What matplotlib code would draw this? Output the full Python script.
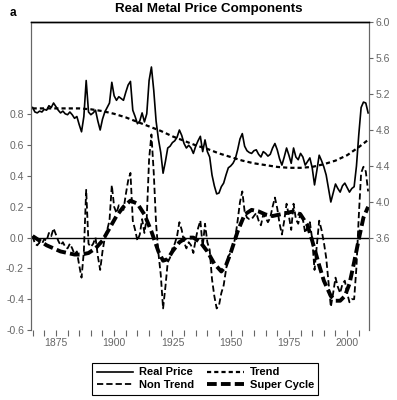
import matplotlib
matplotlib.use("Agg")
import matplotlib.pyplot as plt
import numpy as np

plt.rcParams['font.family'] = ['Liberation Sans', 'DejaVu Sans']
plt.rcParams['lines.scale_dashes'] = False

# annual data 1865-2009
years = np.arange(1865, 2010)

real_price = [
    5.05, 5.00, 4.99, 5.01, 5.00, 5.03, 5.02, 5.07, 5.05, 5.10,   # 1865-1874
    5.06, 5.02, 4.99, 5.01, 4.98, 4.97, 5.00, 4.97, 4.93, 4.95,   # 1875-1884
    4.86, 4.78, 4.95, 5.35, 5.00, 4.97, 4.99, 5.02, 4.90, 4.80,   # 1885-1894
    4.92, 5.00, 5.05, 5.10, 5.33, 5.18, 5.13, 5.17, 5.15, 5.13,   # 1895-1904
    5.22, 5.30, 5.34, 5.02, 4.95, 4.87, 4.90, 4.99, 4.89, 4.98,   # 1905-1914
    5.35, 5.50, 5.24, 4.90, 4.70, 4.55, 4.32, 4.45, 4.60, 4.62,   # 1915-1924
    4.66, 4.68, 4.72, 4.80, 4.74, 4.65, 4.60, 4.63, 4.60, 4.54,   # 1925-1934
    4.62, 4.68, 4.73, 4.56, 4.69, 4.56, 4.50, 4.30, 4.18, 4.09,   # 1935-1944
    4.10, 4.17, 4.21, 4.30, 4.38, 4.40, 4.43, 4.48, 4.58, 4.70,   # 1945-1954
    4.76, 4.62, 4.57, 4.55, 4.54, 4.57, 4.58, 4.53, 4.50, 4.56,   # 1955-1964
    4.54, 4.51, 4.53, 4.60, 4.65, 4.58, 4.48, 4.41, 4.50, 4.60,   # 1965-1974
    4.52, 4.43, 4.60, 4.50, 4.47, 4.54, 4.50, 4.41, 4.45, 4.49,   # 1975-1984
    4.38, 4.19, 4.35, 4.52, 4.46, 4.39, 4.30, 4.15, 4.00, 4.10,   # 1985-1994
    4.20, 4.15, 4.11, 4.18, 4.21, 4.16, 4.11, 4.15, 4.17, 4.40,   # 1995-2004
    4.75, 5.05, 5.11, 5.10, 4.99,                                 # 2005-2009
]

non_trend = [
    0.01, -0.04, -0.05, -0.03, -0.04, -0.01, -0.02, 0.03, 0.01, 0.06,
    0.02, -0.02, -0.05, -0.03, -0.06, -0.07, -0.04, -0.07, -0.11, -0.09,
    -0.18, -0.26, -0.09, 0.31, -0.04, -0.06, -0.04, 0.00, -0.12, -0.21,
    -0.09, 0.00, 0.05, 0.11, 0.34, 0.20, 0.16, 0.21, 0.20, 0.18,
    0.28, 0.37, 0.42, 0.11, 0.05, -0.02, 0.02, 0.12, 0.03, 0.13,
    0.51, 0.67, 0.42, 0.09, -0.10, -0.24, -0.46, -0.32, -0.16, -0.13,
    -0.07, -0.04, 0.01, 0.10, 0.05, -0.03, -0.07, -0.03, -0.05, -0.10,
    -0.01, 0.06, 0.11, -0.06, 0.09, -0.03, -0.08, -0.27, -0.38, -0.46,
    -0.44, -0.36, -0.31, -0.21, -0.12, -0.10, -0.06, 0.00, 0.11, 0.23,
    0.30, 0.17, 0.13, 0.12, 0.12, 0.14, 0.16, 0.11, 0.08, 0.15,
    0.13, 0.10, 0.13, 0.20, 0.26, 0.19, 0.09, 0.02, 0.11, 0.22,
    0.14, 0.05, 0.22, 0.12, 0.09, 0.16, 0.12, 0.03, 0.07, 0.10,
    -0.01, -0.21, -0.05, 0.11, 0.05, -0.03, -0.13, -0.29, -0.45, -0.36,
    -0.26, -0.32, -0.36, -0.30, -0.28, -0.36, -0.42, -0.40, -0.40, -0.19,
    0.14, 0.42, 0.46, 0.43, 0.30,
]

# smooth components, read at knots
trend_years = [1865, 1870, 1875, 1880, 1885, 1890, 1895, 1900, 1905, 1910,
               1915, 1920, 1925, 1930, 1935, 1940, 1945, 1950, 1955, 1960,
               1965, 1970, 1975, 1980, 1985, 1990, 1995, 2000, 2005, 2009]
trend = [5.04, 5.04, 5.04, 5.04, 5.04, 5.03, 5.01, 4.98, 4.94, 4.89,
         4.84, 4.79, 4.73, 4.68, 4.63, 4.59, 4.54, 4.50, 4.46, 4.43,
         4.41, 4.39, 4.38, 4.38, 4.39, 4.42, 4.46, 4.52, 4.61, 4.69]

cycle_years = [1865, 1868, 1871, 1874, 1877, 1880, 1883, 1886, 1889, 1892,
               1895, 1898, 1901, 1904, 1907, 1910, 1913, 1916, 1919, 1921,
               1923, 1925, 1928, 1931, 1934, 1937, 1940, 1943, 1946, 1948,
               1950, 1953, 1956, 1959, 1962, 1965, 1968, 1971, 1974, 1977,
               1980, 1983, 1985, 1988, 1990, 1993, 1995, 1997, 1999, 2001,
               2003, 2005, 2007, 2009]
super_cycle = [0.01, -0.02, -0.05, -0.07, -0.09, -0.10, -0.11, -0.11, -0.10, -0.07,
               -0.02, 0.06, 0.14, 0.20, 0.24, 0.22, 0.15, 0.04, -0.09, -0.15,
               -0.14, -0.09, -0.03, 0.00, 0.00, -0.03, -0.09, -0.17, -0.22, -0.18,
               -0.10, 0.04, 0.15, 0.18, 0.17, 0.15, 0.14, 0.15, 0.16, 0.17,
               0.15, 0.08, -0.02, -0.18, -0.28, -0.38, -0.41, -0.41, -0.38, -0.30,
               -0.16, -0.01, 0.13, 0.20]

fig = plt.figure(figsize=(3.97, 4.0), dpi=100)
ax = fig.add_axes([0.078, 0.175, 0.851, 0.770])
ax2 = ax.twinx()

ax.axhline(0, color='black', lw=1.0, zorder=1)
l_nt, = ax.plot(years, non_trend, color='black', lw=1.3, dashes=(4.5, 2.2), label='Non Trend')
l_sc, = ax.plot(cycle_years, super_cycle, color='black', lw=2.8, dashes=(7, 3), label='Super Cycle')
l_rp, = ax2.plot(years, real_price, color='black', lw=1.2, label='Real Price')
l_tr, = ax2.plot(trend_years, trend, color='black', lw=1.6, dashes=(3, 2.2), label='Trend')

ax.set_xlim(1864.3, 2009.3)
ax.set_ylim(-0.6, 1.4)
ax2.set_ylim(2.578, 6.0)
ax.set_yticks(np.arange(-0.6, 0.81, 0.2))
ax.set_yticklabels(['-0.6', '-0.4', '-0.2', '0.0', '0.2', '0.4', '0.6', '0.8'])
ax2.set_yticks(np.arange(3.6, 6.01, 0.4))
ax2.set_yticklabels(['3.6', '4.0', '4.4', '4.8', '5.2', '5.6', '6.0'])
ax.set_xticks(np.arange(1865, 2006, 5), minor=True)
ax.set_xticks([1875, 1900, 1925, 1950, 1975, 2000])

grey = '#666666'
for a in (ax, ax2):
    a.spines['bottom'].set_visible(False)
    a.spines['left'].set_color(grey)
    a.spines['right'].set_color(grey)
    a.spines['top'].set_color('black')
    a.spines['top'].set_linewidth(1.0)
ax.tick_params(axis='y', colors=grey, labelsize=7.5, length=3, width=0.8, pad=2)
ax2.tick_params(axis='y', colors=grey, labelsize=7.5, length=3, width=0.8, pad=2)
ax.tick_params(axis='x', which='both', colors=grey, labelsize=7.5, length=4, width=0.8, pad=2)

fig.text(0.527, 0.978, 'Real Metal Price Components', ha='center', va='center',
         fontsize=9.6, fontweight='bold')
fig.text(0.033, 0.968, 'a', ha='center', va='center', fontsize=8.5, fontweight='bold')

leg = fig.legend([l_rp, l_nt, l_tr, l_sc], ['Real Price', 'Non Trend', 'Trend', 'Super Cycle'],
                 loc='center', bbox_to_anchor=(0.517, 0.053), ncol=2, fancybox=False,
                 edgecolor='black', handlelength=3.3, handletextpad=0.5,
                 columnspacing=1.2, labelspacing=0.25, borderpad=0.4, framealpha=1,
                 prop={'weight': 'bold', 'size': 8})
leg.get_frame().set_linewidth(0.8)

fig.savefig('out.png', dpi=100)
